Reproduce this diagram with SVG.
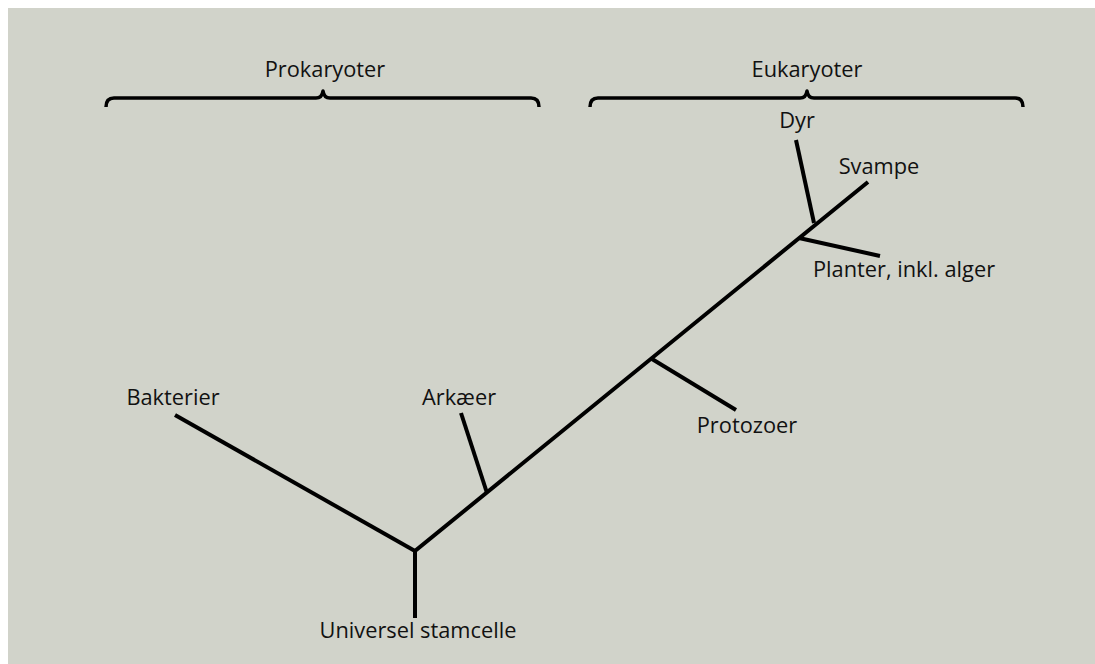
<svg xmlns="http://www.w3.org/2000/svg" width="1095" height="664" viewBox="0 0 1095 664">
<style>
.lbl{font-family:"Open Sans","Liberation Sans",sans-serif;font-size:21.8px;fill:#111;text-anchor:middle}
.br{fill:none;stroke:#000;stroke-width:3.5;stroke-linejoin:round}
.ln{fill:none;stroke:#000;stroke-width:4;stroke-linecap:butt;stroke-linejoin:miter}
</style>
<rect x="0" y="0" width="1095" height="664" fill="#fff"/>
<rect x="8" y="8" width="1087" height="656" fill="#d1d3ca"/>
<g id="prokaryoter">
<path class="br" d="M106,107 Q106,98 114,98 L316,98 Q322,98 323,91 Q324,98 330,98 L531,98 Q539,98 539,107"/>
<text class="lbl" x="325" y="77">Prokaryoter</text>
</g>
<g id="eukaryoter">
<path class="br" d="M590,107 Q590,98 598,98 L800,98 Q806,98 807,91 Q808,98 814,98 L1015,98 Q1023,98 1023,107"/>
<text class="lbl" x="807" y="77">Eukaryoter</text>
</g>
<g id="connectors">
<path class="ln" d="M415,618 L415,551 L868,182"/>
<path class="ln" d="M175,415 L415,551"/>
<path class="ln" d="M461,413 L487,493"/>
<path class="ln" d="M652,359 L736,410"/>
<path class="ln" d="M799,238 L880,256"/>
<path class="ln" d="M796,140 L814,223"/>
</g>
<g id="universel"><text class="lbl" x="418" y="638">Universel stamcelle</text></g>
<g id="bakterier"><text class="lbl" x="173" y="405">Bakterier</text></g>
<g id="arkaeer"><text class="lbl" x="459" y="405">Arkæer</text></g>
<g id="protozoer"><text class="lbl" x="747" y="433">Protozoer</text></g>
<g id="planter"><text class="lbl" x="904" y="277">Planter, inkl. alger</text></g>
<g id="svampe"><text class="lbl" x="879" y="174">Svampe</text></g>
<g id="dyr"><text class="lbl" x="797" y="128">Dyr</text></g>
</svg>
